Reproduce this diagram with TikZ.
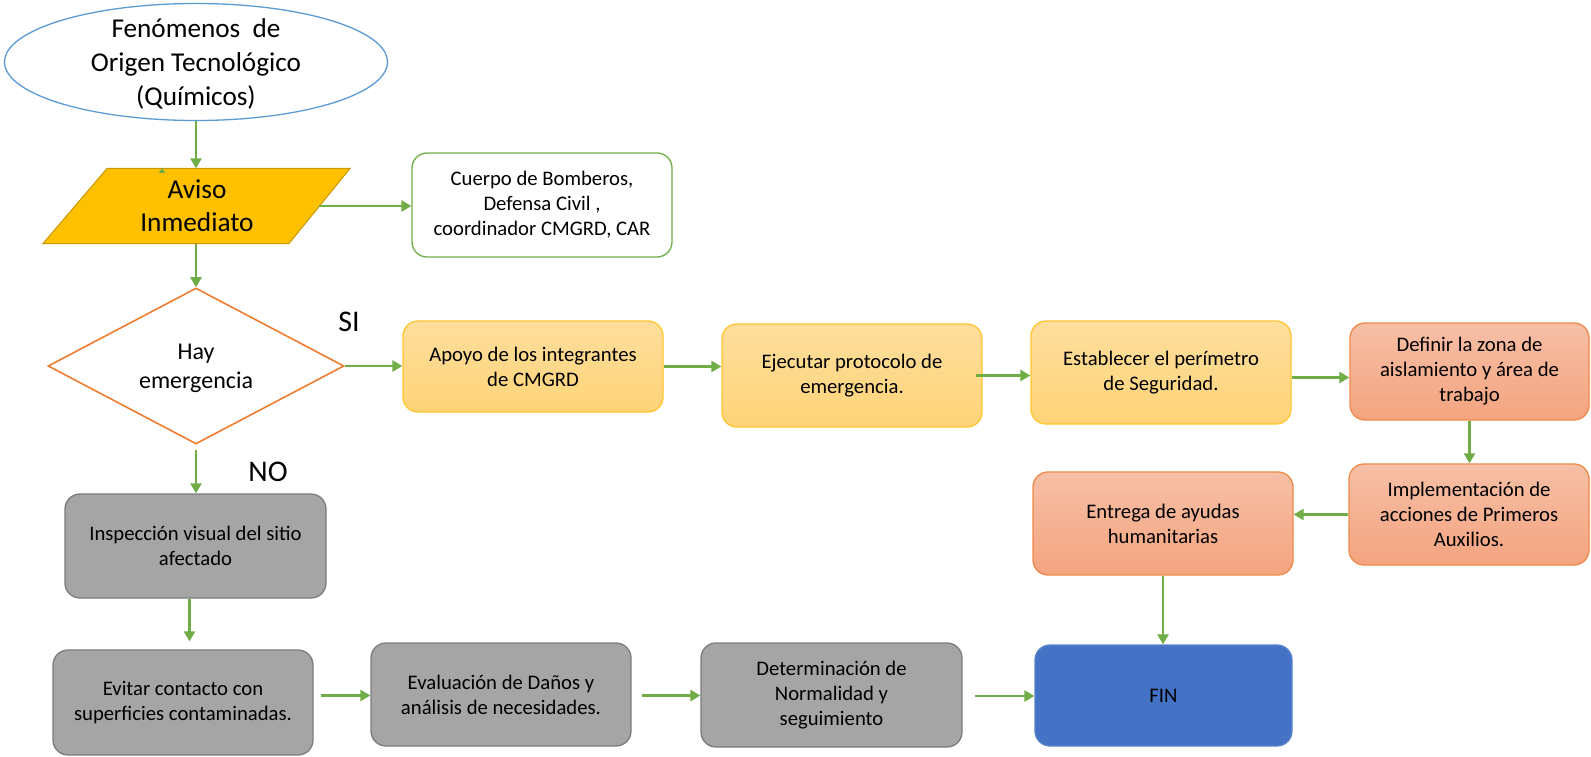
\documentclass[tikz,border=0pt]{standalone}
\usepackage{fontspec}
\setmainfont{Carlito}
\usetikzlibrary{shapes.geometric,arrows.meta,calc,shadings}
\definecolor{arrowgreen}{HTML}{70AD47}
\definecolor{ellblue}{HTML}{5B9BD5}
\definecolor{avisofill}{HTML}{FFC000}
\definecolor{avisobord}{HTML}{C99700}
\definecolor{diaorange}{HTML}{ED7D31}
\definecolor{ytopc}{HTML}{FEDE9D}
\definecolor{ybotc}{HTML}{FFD478}
\definecolor{ybordc}{HTML}{FFC630}
\definecolor{stopc}{HTML}{F6BFA6}
\definecolor{sbotc}{HTML}{F4A47F}
\definecolor{sbordc}{HTML}{F08A4B}
\definecolor{gfillc}{HTML}{A5A5A5}
\definecolor{gbordc}{HTML}{7C7C7C}
\definecolor{finfill}{HTML}{4472C4}
\definecolor{finbord}{HTML}{5A84CC}
\begin{document}
\begin{tikzpicture}[x=1pt,y=-1pt,
  arr/.style={draw=arrowgreen, line width=2.6pt, -{Triangle[length=10pt,width=11pt]}},
  boxtxt/.style={align=center, font=\fontsize{20.7}{25}\selectfont, inner sep=0pt},
  rbox/.style={boxtxt, rounded corners=15pt, line width=1.3pt, minimum width=260pt, minimum height=103pt},
  ybox/.style={rbox, draw=ybordc, top color=ytopc, bottom color=ybotc},
  sbox/.style={rbox, draw=sbordc, top color=stopc, bottom color=sbotc},
  gbox/.style={rbox, draw=gbordc, fill=gfillc},
  finbox/.style={rbox, draw=finbord, fill=finfill},
  wbox/.style={rbox, draw=arrowgreen, fill=white},
  bigtxt/.style={align=center, inner sep=0pt},
  yesno/.style={inner sep=0pt, font=\fontsize{30}{36}\selectfont}
]
\fill[white] (0,0) rectangle (1591,757);
\useasboundingbox (0,0) rectangle (1591,757);

% start ellipse
\node[ellipse, draw=ellblue, line width=1.3pt, fill=white, minimum width=383pt, minimum height=117pt, inner sep=0pt] (ell) at (196,62) {};
\node[bigtxt, font=\fontsize{27.2}{34}\selectfont] (ellt) at ($(ell.center)+(0,2)$) {Fenómenos~~de\\Origen Tecnológico\\(Químicos)};

% aviso parallelogram
\coordinate (avc) at (197,206);
\draw[fill=avisofill, draw=avisobord, line width=1pt]
  ($(avc)+(-154,37.5)$) -- ($(avc)+(92,37.5)$) -- ($(avc)+(153,-37.5)$) -- ($(avc)+(-90,-37.5)$) -- cycle;
\node[bigtxt, font=\fontsize{27.3}{33}\selectfont, minimum width=244pt, minimum height=75pt] (aviso) at (avc) {Aviso\\Inmediato};
\coordinate (stray) at (162,171);
\draw[arrowgreen, line width=1pt, -{Triangle[length=5pt,width=6pt]}] (stray) -- ++(0,-3);

\node[wbox, minimum height=104pt] (cuerpo) at (542,205) {Cuerpo de Bomberos,\\Defensa Civil ,\\coordinador CMGRD, CAR};

% decision
\node[diamond, draw=diaorange, line width=1.6pt, fill=white, minimum width=296pt, minimum height=156pt, aspect=1.9, inner sep=0pt] (dia) at (196,366) {};
\node[bigtxt, font=\fontsize{24}{29}\selectfont] (diat) at ($(dia.center)+(0,2)$) {Hay\\emergencia};
\node[yesno] (si) at (349,322) {SI};
\node[yesno] (no) at (268,472) {NO};

% SI branch
\node[ybox, minimum height=91pt] (apoyo) at (533,366.5) {Apoyo de los integrantes\\de CMGRD};
\node[ybox] (ejecutar) at (852,375.5) {Ejecutar protocolo de\\emergencia.};
\node[ybox] (establecer) at (1161,372.5) {Establecer el perímetro\\de Seguridad.};
\node[sbox, minimum width=239pt, minimum height=97pt] (definir) at (1469.5,371.5) {Definir la zona de\\aislamiento y área de\\trabajo};
\node[sbox, minimum width=240pt, minimum height=101pt] (impl) at (1469,514.5) {Implementación de\\acciones de Primeros\\Auxilios.};
\node[sbox] (entrega) at (1163,523.5) {Entrega de ayudas\\humanitarias};
\node[finbox, minimum width=257pt, minimum height=101pt] (fin) at (1163.5,695.5) {FIN};

% NO branch
\node[gbox, minimum width=261pt, minimum height=104pt] (insp) at (195.5,546) {Inspección visual del sitio\\afectado};
\node[gbox, minimum height=105pt] (evitar) at (183,702.5) {Evitar contacto con\\superficies contaminadas.};
\node[gbox] (evaluacion) at (501,694.5) {Evaluación de Daños y\\análisis de necesidades.};
\node[gbox, minimum width=261pt, minimum height=104pt] (determ) at (831.5,695) {Determinación de\\Normalidad y\\seguimiento};

% connectors
\draw[arr] (ell.south) -- (ell.south |- aviso.north);
\draw[arr] (aviso.east) -- (aviso.east -| cuerpo.west);
\draw[arr] (aviso.south -| dia.north) -- (dia.north);
\draw[arr] (dia.east) -- (dia.east -| apoyo.west);
\draw[arr] (apoyo.east) -- (apoyo.east -| ejecutar.west);
\draw[arr] ([xshift=-7pt]ejecutar.east) -- (ejecutar.east -| establecer.west);
\draw[arr] ($(establecer.east)+(0,5)$) -- ($(establecer.east -| definir.west)+(0,5)$);
\draw[arr] (definir.south) -- (definir.south |- impl.north);
\draw[arr] (impl.west) -- (impl.west -| entrega.east);
\draw[arr] (entrega.south) -- (entrega.south |- fin.north);
\draw[arr] ($(dia.south)+(0,5)$) -- (dia.south |- insp.north);
\draw[arr] ($(insp.south)+(-6,0)$) -- ($(insp.south |- evitar.north)+(-6,-8)$);
\draw[arr] ($(evitar.east |- evaluacion.west)+(7,1)$) -- ($(evaluacion.west)+(0,1)$);
\draw[arr] ($(evaluacion.east)+(10,1)$) -- ($(evaluacion.east -| determ.west)+(0,1)$);
\draw[arr] ($(determ.east)+(12,1)$) -- ($(determ.east -| fin.west)+(0,1)$);
\end{tikzpicture}
\end{document}
